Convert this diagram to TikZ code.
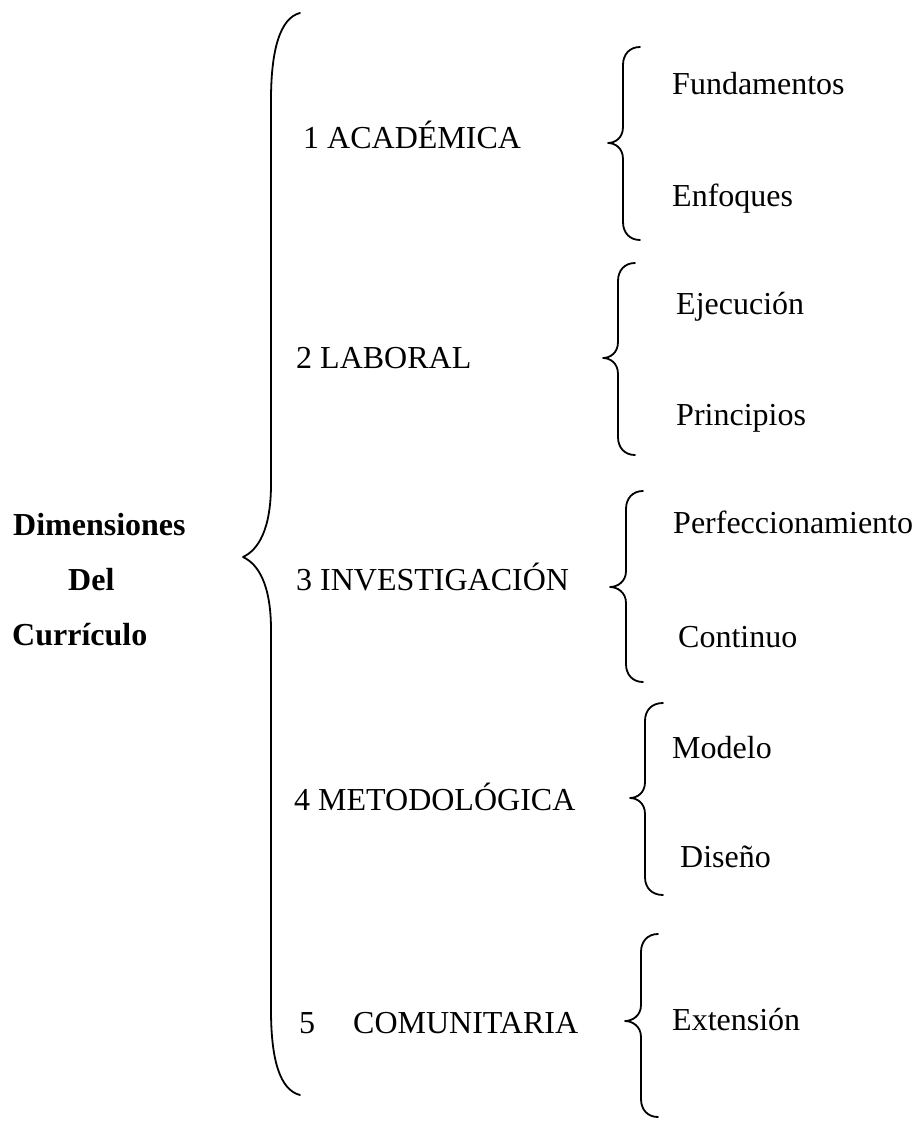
\documentclass[tikz,border=0pt]{standalone}
\usepackage{fontspec}
\setmainfont{Liberation Serif}
\newcommand{\mybrace}[6]{%
  \draw[brc] (#3,#4) .. controls (#2+7,#4) and (#2,#4+7) .. (#2,#4+18)
    -- (#2,#5-16) .. controls (#2,#5-5) and (#1+7,#5) .. (#1,#5)
    .. controls (#1+7,#5) and (#2,#5+5) .. (#2,#5+16)
    -- (#2,#6-18) .. controls (#2,#6-7) and (#2+7,#6) .. (#3,#6);}
\tikzset{
  lbl/.style={anchor=base west, inner sep=0pt, font=\fontsize{32}{38}\selectfont},
  ttl/.style={lbl, font=\fontsize{32}{38}\selectfont\bfseries},
  brc/.style={line width=1.8pt, line cap=round, line join=round}
}
\begin{document}
\begin{tikzpicture}[x=1pt, y=-1pt]
\useasboundingbox[fill=white] (0,0) rectangle (917,1124);
% title
\node[ttl] (t1) at (13,535) {Dimensiones};
\node[ttl] (t2) at (68,590) {Del};
\node[ttl] (t3) at (12,645) {Currículo};
% big brace
\draw[brc] (300,13) .. controls (280,18) and (271,50) .. (271,100)
  -- (271,484) .. controls (271,530) and (258,550) .. (243,557)
  .. controls (258,564) and (271,584) .. (271,630)
  -- (271,1010) .. controls (271,1060) and (280,1090) .. (300,1095);
% dimensions
\node[lbl] (d1) at (303,148) {1 ACADÉMICA};
\node[lbl] (d2) at (296,368) {2 LABORAL};
\node[lbl] (d3) at (296,590) {3 INVESTIGACIÓN};
\node[lbl] (d4) at (294,810) {4 METODOLÓGICA};
\node[lbl] (d5) at (299,1033) {5\hspace{38pt}COMUNITARIA};
% small braces
\mybrace{608}{623}{640}{47}{143}{240}
\mybrace{603}{618}{635}{263}{358}{455}
\mybrace{610}{626}{643}{491}{587}{682}
\mybrace{630}{645}{663}{703}{798}{895}
\mybrace{625}{641}{658}{934}{1021}{1117}
% items
\node[lbl] (a1) at (672,94) {Fundamentos};
\node[lbl] (a2) at (672,206) {Enfoques};
\node[lbl] (b1) at (676,314) {Ejecución};
\node[lbl] (b2) at (676,425) {Principios};
\node[lbl] (c1) at (673,533) {Perfeccionamiento};
\node[lbl] (c2) at (678,647) {Continuo};
\node[lbl] (e1) at (672,758) {Modelo};
\node[lbl] (e2) at (680,867) {Diseño};
\node[lbl] (f1) at (672,1030) {Extensión};
\end{tikzpicture}
\end{document}
